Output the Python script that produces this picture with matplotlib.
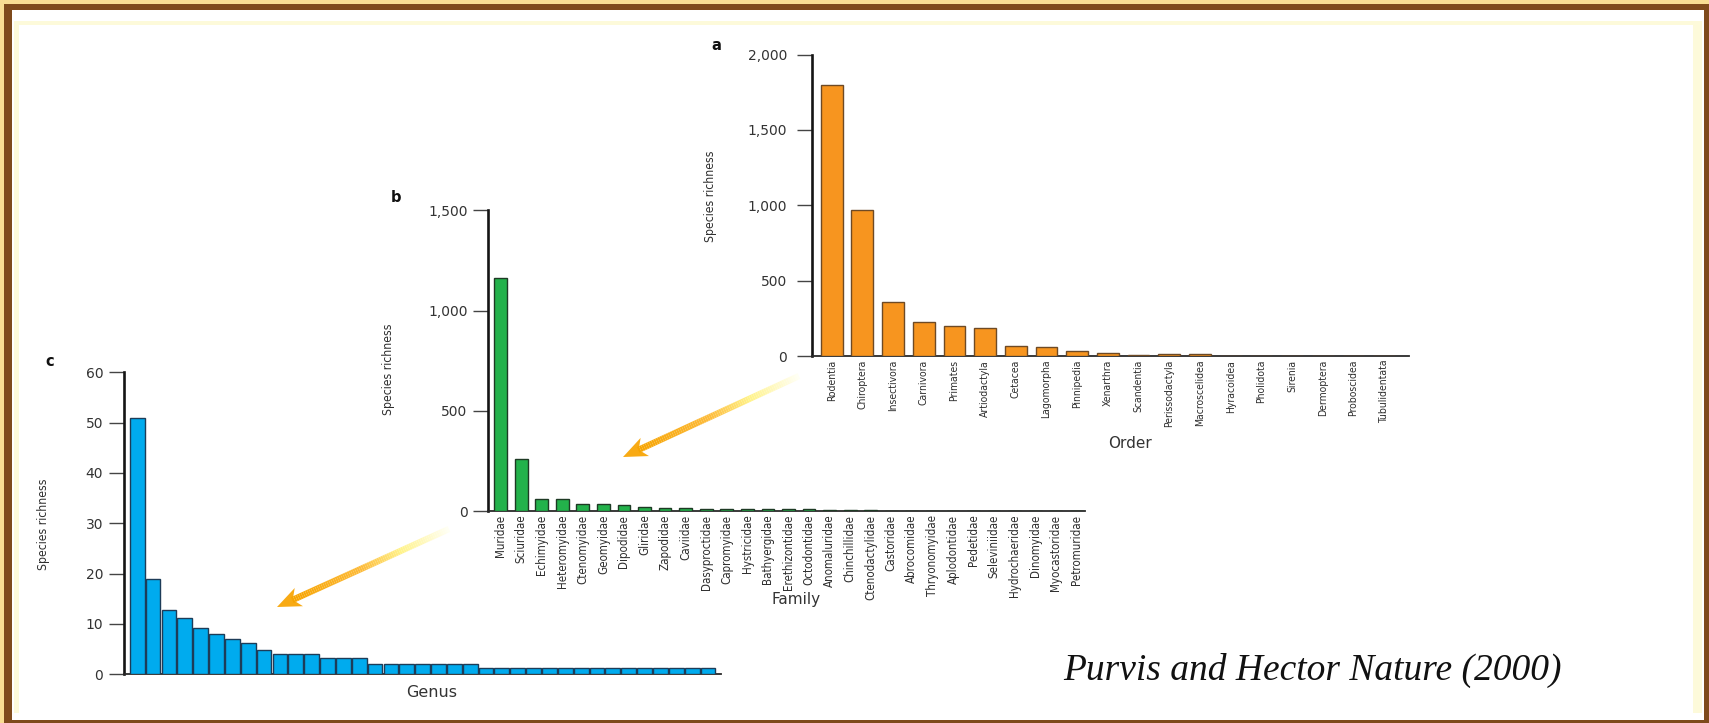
import os
import re
import numpy as np
import matplotlib
matplotlib.use("Agg")
import matplotlib.pyplot as plt
from matplotlib import font_manager as fm
from matplotlib.patches import Rectangle, Polygon
from matplotlib.collections import LineCollection
from matplotlib.colors import LinearSegmentedColormap
from matplotlib.ticker import FuncFormatter

# ---- data -------------------------------------------------------------
orders = ["Rodentia", "Chiroptera", "Insectivora", "Carnivora", "Primates",
          "Artiodactyla", "Cetacea", "Lagomorpha", "Pinnipedia", "Xenarthra",
          "Scandentia", "Perissodactyla", "Macroscelidea", "Hyracoidea",
          "Pholidota", "Sirenia", "Dermoptera", "Proboscidea", "Tubulidentata"]
order_richness = [1800, 970, 360, 230, 202, 190, 70, 59, 34, 22,
                  11, 15, 15, 2, 2, 1, 1, 1, 1]

families = ["Muridae", "Sciuridae", "Echimyidae", "Heteromyidae", "Ctenomyidae",
            "Geomyidae", "Dipodidae", "Gliridae", "Zapodidae", "Caviidae",
            "Dasyproctidae", "Capromyidae", "Hystricidae", "Bathyergidae",
            "Erethizontidae", "Octodontidae", "Anomaluridae", "Chinchillidae",
            "Ctenodactylidae", "Castoridae", "Abrocomidae", "Thryonomyidae",
            "Aplodontidae", "Pedetidae", "Seleviniidae", "Hydrochaeridae",
            "Dinomyidae", "Myocastoridae", "Petromuridae"]
family_richness = [1165, 260, 61, 60, 38, 37, 33, 21, 15, 14,
                   13, 13, 11, 11, 12, 9, 7, 6, 5, 2,
                   2, 2, 1, 1, 1, 1, 1, 1, 1]

genus_richness = [51, 19, 12.8, 11.1, 9.2, 8.0, 7.1, 6.3, 4.9,
                  4.1, 4.1, 4.1, 3.2, 3.2, 3.2,
                  2, 2, 2, 2, 2, 2, 2,
                  1.3, 1.3, 1.3, 1.3, 1.3, 1.3, 1.3, 1.3,
                  1.3, 1.3, 1.3, 1.3, 1.3, 1.3, 1.3]

citation = "Purvis and Hector Nature (2000)"


# ---- fonts ------------------------------------------------------------
def narrow_font():
    """Return a condensed sans-serif face if one is installed."""
    files = set(fm.findSystemFonts()) | {f.fname for f in fm.fontManager.ttflist}
    patterns = [r"NotoSans-ExtraCondensed\.ttf$",
                r"NotoSans-Condensed\.ttf$",
                r"LiberationSansNarrow-Regular\.ttf$",
                r"DejaVuSansCondensed\.ttf$",
                r"RobotoCondensed-Regular\.ttf$",
                r"OpenSans.*Condensed.*Regular\.ttf$"]
    for pat in patterns:
        for f in sorted(files):
            if re.search(pat, os.path.basename(f)):
                return f
    return None


NARROW_FILE = narrow_font()


def narrow(size):
    if NARROW_FILE:
        return fm.FontProperties(fname=NARROW_FILE, size=size)
    return fm.FontProperties(family="DejaVu Sans", size=size * 0.8)


# ---- figure -----------------------------------------------------------
W, H = 1709, 723
fig = plt.figure(figsize=(W / 100, H / 100), dpi=100, facecolor="#F8DD92")

WIDE = ["DejaVu Sans"]
TXT = "#2e2e2e"


def px_axes(x0, y0, x1, y1, **kw):
    """Axes placed by pixel box (top-left origin)."""
    return fig.add_axes([x0 / W, 1 - y1 / H, (x1 - x0) / W, (y1 - y0) / H], **kw)


# slide frame
bg = px_axes(0, 0, W, H, zorder=-10)
bg.set_xlim(0, W)
bg.set_ylim(H, 0)
bg.axis("off")
bg.add_patch(Rectangle((3.5, 3.5), W, H, color="#7E4A1B", lw=0))
bg.add_patch(Rectangle((11.5, 10), 1704 - 11.5, 720 - 10, color="white", lw=0))
bg.add_patch(Rectangle((13.5, 21), 1702 - 13.5, 713 - 21, color="#FDFADA", lw=0))
bg.add_patch(Rectangle((18.5, 25), 1693 - 18.5, 713 - 25, color="white", lw=0))


def style(ax, ymax, step, tick_len=10.5, tick_pad=4.5):
    ax.set_facecolor("none")
    for s in ("top", "right"):
        ax.spines[s].set_visible(False)
    ax.spines["left"].set_linewidth(1.9)
    ax.spines["left"].set_color("#151515")
    ax.spines["bottom"].set_linewidth(1.3)
    ax.spines["bottom"].set_color("#2a2a2a")
    ax.set_ylim(0, ymax)
    ax.set_yticks(np.arange(0, ymax + 1, step))
    ax.yaxis.set_major_formatter(FuncFormatter(lambda v, p: f"{int(v):,}"))
    ax.tick_params(axis="y", length=tick_len, width=1.0, color="#444444",
                   pad=tick_pad, labelsize=10, labelcolor="#333333")
    ax.tick_params(axis="x", length=0, pad=2.5)
    for lab in ax.get_yticklabels():
        lab.set_family(WIDE)
    ax.set_ylabel("Species richness", fontproperties=narrow(8.7), color=TXT)


# ---- panel a : orders -------------------------------------------------
ax_a = px_axes(812, 54.5, 1409, 356.4)
xa = np.arange(len(orders))
ax_a.bar(xa, order_richness, width=0.71, color="#F7951F", edgecolor="#6E4A25",
         linewidth=1.0, zorder=3)
ax_a.set_xlim(-0.64, 18.81)
style(ax_a, 2000, 500, tick_len=11, tick_pad=7)
ax_a.set_xticks(xa)
ax_a.set_xticklabels(orders, rotation=90, fontproperties=narrow(7.5), color=TXT,
                     va="top")
ax_a.yaxis.set_label_coords(-0.159, 0.53)
ax_a.set_xlabel("Order", family=WIDE, fontsize=11, color="#333333")
ax_a.xaxis.set_label_coords(0.533, -0.264)
fig.text(716 / W, 1 - 45 / H, "a", fontsize=10.5, fontweight="bold",
         ha="center", va="center", color="#111111")

# ---- panel b : families -----------------------------------------------
ax_b = px_axes(488.3, 210.4, 1084.5, 511.2)
xb = np.arange(len(families))
ax_b.bar(xb, family_richness, width=0.62, color="#23B24B", edgecolor="#1E3A24",
         linewidth=1.0, zorder=3)
ax_b.set_xlim(-0.6, 28.4)
style(ax_b, 1500, 500)
ax_b.set_xticks(xb)
ax_b.set_xticklabels(families, rotation=90, fontproperties=narrow(8.3), color=TXT,
                     va="top")
ax_b.yaxis.set_label_coords(-0.156, 0.473)
ax_b.set_xlabel("Family", family=WIDE, fontsize=11, color="#333333")
ax_b.xaxis.set_label_coords(0.516, -0.269)
fig.text(396 / W, 1 - 198 / H, "b", fontsize=10.5, fontweight="bold",
         ha="center", va="center", color="#111111")

# ---- panel c : genera -------------------------------------------------
ax_c = px_axes(124, 372.3, 720.7, 674.3)
xc = np.arange(len(genus_richness))
ax_c.bar(xc, genus_richness, width=0.93, color="#00ABEE", edgecolor="#1D3C58",
         linewidth=1.0, zorder=3)
ax_c.set_xlim(-0.83, 36.8)
style(ax_c, 60, 10)
ax_c.set_xticks([])
ax_c.yaxis.set_label_coords(-0.124, 0.498)
ax_c.set_xlabel("Genus", family=WIDE, fontsize=11.5, color="#333333")
ax_c.xaxis.set_label_coords(0.515, -0.035)
fig.text(50 / W, 1 - 361 / H, "c", fontsize=10.5, fontweight="bold",
         ha="center", va="center", color="#111111")

# ---- zoom arrows ------------------------------------------------------
ov = px_axes(0, 0, W, H, zorder=20)
ov.set_xlim(0, W)
ov.set_ylim(H, 0)
ov.axis("off")
grad = LinearSegmentedColormap.from_list(
    "glow", [(0.0, "#FFFFF4"), (0.3, "#FFF38A"), (0.55, "#FDBB3A"), (1.0, "#F6A300")])


def glow_arrow(tail, tip, shaft=4.6, head_len=24, head_w=20):
    tail = np.asarray(tail, float)
    tip = np.asarray(tip, float)
    d = tip - tail
    L = np.hypot(*d)
    u = d / L
    n = np.array([-u[1], u[0]])
    neck = tip - u * head_len * 0.7
    t = np.linspace(0, 1, 80)
    pts = tail + np.outer(t, neck - tail)
    segs = np.stack([pts[:-1], pts[1:]], axis=1)
    lc = LineCollection(segs, colors=grad(t[:-1]), linewidths=shaft,
                        capstyle="butt")
    ov.add_collection(lc)
    base = tip - u * head_len
    head = [tip, base + n * head_w / 2, tip - u * head_len * 0.72,
            base - n * head_w / 2]
    ov.add_patch(Polygon(head, closed=True, color="#F8AA14", lw=0))


glow_arrow((799, 376), (623, 457))
glow_arrow((449, 529), (277, 607))

fig.text(1312 / W, 1 - 670 / H, citation, family=["Liberation Serif", "DejaVu Serif"],
         style="italic", fontsize=27, ha="center", va="center", color="#111111")

fig.savefig("out.png", dpi=100, facecolor=fig.get_facecolor())
